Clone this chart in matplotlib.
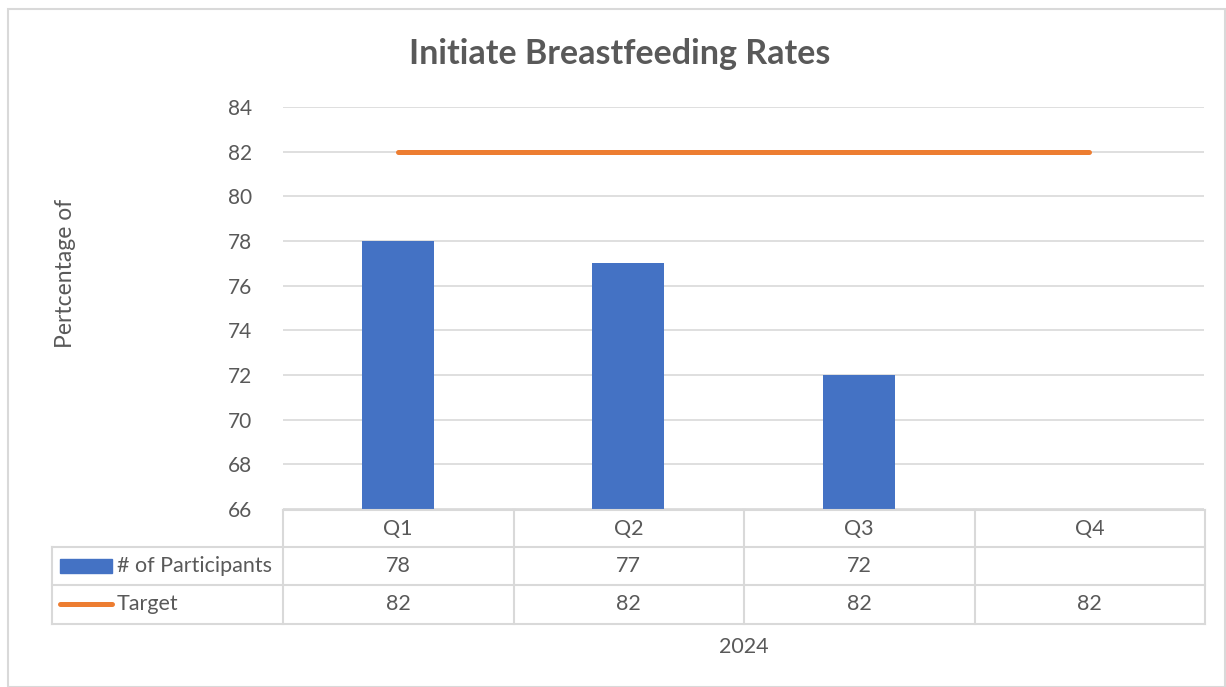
import matplotlib
matplotlib.use("Agg")
import matplotlib.pyplot as plt
import numpy as np
from matplotlib.patches import Rectangle

categories = ["Q1", "Q2", "Q3", "Q4"]
participants = [78, 77, 72, None]
target = [82, 82, 82, 82]
yticks = [66, 68, 70, 72, 74, 76, 78, 80, 82, 84]
title = "Initiate Breastfeeding Rates"
ylabel = "Pertcentage of"
xgroup = "2024"
series_names = ["# of Participants", "Target"]

BLUE = "#4472C4"
ORANGE = "#ED7D31"
TXT = "#595959"
GRID = "#D9D9D9"
FONT = "Lato"

W, H = 1226, 687
fig = plt.figure(figsize=(W / 100, H / 100), dpi=100)

# pixel geometry
px_l, px_r, px_t, px_b = 283, 1204, 107, 509
ax = fig.add_axes([px_l / W, 1 - px_b / H, (px_r - px_l) / W, (px_b - px_t) / H])
x = np.arange(len(categories))
bx = [i for i, v in enumerate(participants) if v is not None]
bv = [v for v in participants if v is not None]
ax.bar(bx, [v - yticks[0] for v in bv], bottom=yticks[0], width=0.313, color=BLUE, zorder=3)
ax.plot(x, target, color=ORANGE, lw=3.6, solid_capstyle="round", zorder=4)
ax.set_xlim(-0.5, len(categories) - 0.5)
ax.set_ylim(yticks[0], yticks[-1])
ax.set_yticks(yticks)
ax.set_xticks([])
ax.grid(axis="y", color=GRID, lw=1.2, zorder=0)
for s in ax.spines.values():
    s.set_visible(False)
ax.tick_params(axis="y", length=0, pad=22, labelsize=15, labelcolor=TXT)
for lab in ax.get_yticklabels():
    lab.set_fontfamily(FONT)

# overlay in pixel coordinates
ov = fig.add_axes([0, 0, 1, 1], zorder=-1)
ov.set_xlim(0, W)
ov.set_ylim(H, 0)
ov.axis("off")
ov.add_patch(Rectangle((7.5, 8.5), W - 9, H - 9, fill=False, ec=GRID, lw=1.5))

ov2 = fig.add_axes([0, 0, 1, 1], zorder=5)
ov2.set_xlim(0, W)
ov2.set_ylim(H, 0)
ov2.axis("off")
ov2.patch.set_alpha(0)

ov2.text(620, 54, title, ha="center", va="center", fontsize=24.5, fontweight="bold",
         color=TXT, family=FONT)
ov2.text(66, 273, ylabel, ha="center", va="center", rotation=90, fontsize=16.5,
         color=TXT, family=FONT)

# table
col_w = (1205 - px_l) / len(categories)
row_y = [510, 547, 585, 624]
tl = dict(color=GRID, lw=1.5)
ov2.plot([px_l, 1205], [row_y[0]] * 2, **tl)
for y in row_y[1:]:
    ov2.plot([52, 1205], [y] * 2, **tl)
ov2.plot([52, 52], [row_y[1], row_y[3]], **tl)
for i in range(len(categories) + 1):
    xx = px_l + i * col_w
    ov2.plot([xx, xx], [row_y[0], row_y[3]], **tl)

fs = 15.5
for i, c in enumerate(categories):
    cx = px_l + (i + 0.5) * col_w
    ov2.text(cx, (row_y[0] + row_y[1]) / 2, c, ha="center", va="center", fontsize=fs, color=TXT, family=FONT)
    if participants[i] is not None:
        ov2.text(cx, (row_y[1] + row_y[2]) / 2, str(participants[i]), ha="center", va="center",
                 fontsize=fs, color=TXT, family=FONT)
    ov2.text(cx, (row_y[2] + row_y[3]) / 2, str(target[i]), ha="center", va="center",
             fontsize=fs, color=TXT, family=FONT)

ov2.add_patch(Rectangle((60, 559), 52, 14, color=BLUE))
ov2.text(117, (row_y[1] + row_y[2]) / 2, series_names[0], ha="left", va="center", fontsize=fs, color=TXT, family=FONT)
ov2.plot([60, 112], [604, 604], color=ORANGE, lw=3.6, solid_capstyle="round")
ov2.text(117, (row_y[2] + row_y[3]) / 2, series_names[1], ha="left", va="center", fontsize=fs, color=TXT, family=FONT)

ov2.text(744, 647, xgroup, ha="center", va="center", fontsize=fs, color=TXT, family=FONT)

fig.savefig("out.png", dpi=100)
